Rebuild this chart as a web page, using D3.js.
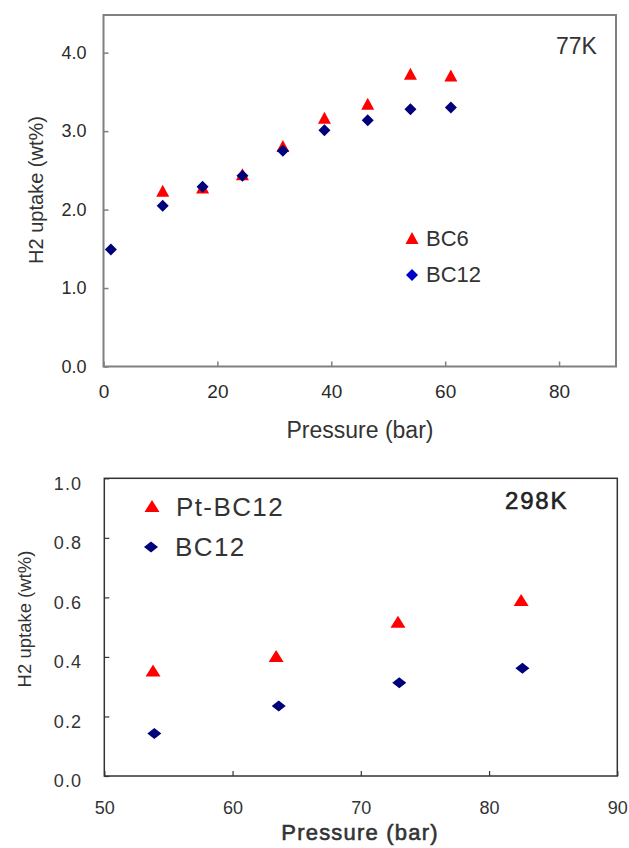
<!DOCTYPE html>
<html>
<head>
<meta charset="utf-8">
<script src="https://cdn.jsdelivr.net/npm/d3@7"></script>
<style>
  body { margin: 0; background: #fff; }
  svg { display: block; font-family: "Liberation Sans", Arial, sans-serif; }
</style>
</head>
<body>
<div id="chart"></div>
<script>
// 77K panel
const topPressureBC6 = [10.4, 17.4, 24.4, 31.5, 38.8, 46.4, 53.9, 61.0];
const topUptakeBC6 = [2.24, 2.28, 2.45, 2.81, 3.17, 3.35, 3.73, 3.71];
const topPressureBC12 = [1.3, 10.4, 17.4, 24.4, 31.5, 38.8, 46.4, 53.9, 61.0];
const topUptakeBC12 = [1.49, 2.05, 2.29, 2.43, 2.75, 3.01, 3.14, 3.28, 3.30];
const topXTicks = [0, 20, 40, 60, 80];
const topYTicks = [0, 1, 2, 3, 4];

// 298K panel
const botPressurePt = [53.8, 63.4, 72.9, 82.5];
const botUptakePt = [0.354, 0.403, 0.518, 0.591];
const botPressureBC12 = [53.9, 63.6, 73.0, 82.6];
const botUptakeBC12 = [0.143, 0.235, 0.313, 0.362];
const botXTicks = [50, 60, 70, 80, 90];
const botYTicks = [0, 0.2, 0.4, 0.6, 0.8, 1.0];

const W = 629, H = 848;
const RED = '#ff0000', NAVY = '#00007a';

const svg = d3.select('#chart')
	.append('svg')
	.attr('width', W)
	.attr('height', H);

// marker shapes, centred on the point
const triangle = (w, h) => `M0,${-h / 2}L${w / 2},${h / 2}L${-w / 2},${h / 2}Z`;
const diamond = (w, h) => `M0,${-h / 2}L${w / 2},0L0,${h / 2}L${-w / 2},0Z`;

const zip = (xs, ys) => xs.map((x, i) => ({ x: x, y: ys[i] }));

// ---------- top chart ----------
const x1 = d3.scaleLinear().domain([0, 90]).range([103.5, 616]);
const y1 = d3.scaleLinear().domain([0, 4.48]).range([366.5, 15]);

const g1 = svg.append('g');

g1.append('rect')
	.attr('x', x1.range()[0])
	.attr('y', y1.range()[1])
	.attr('width', x1.range()[1] - x1.range()[0])
	.attr('height', y1.range()[0] - y1.range()[1])
	.attr('fill', 'none')
	.attr('stroke', '#808080')
	.attr('stroke-width', 2);

g1.append('g')
	.attr('transform', `translate(${x1.range()[0]},0)`)
	.call(d3.axisLeft(y1).tickValues(topYTicks).tickFormat(d3.format('.1f')).tickSizeInner(-5).tickSizeOuter(0).tickPadding(17))
	.call(g => g.select('.domain').remove())
	.call(g => g.selectAll('line').attr('stroke', '#808080').attr('stroke-width', 1.5))
	.call(g => g.selectAll('text').attr('font-size', 18).attr('fill', '#2a2a2a').attr('font-family', null));

g1.append('g')
	.attr('transform', `translate(0,${y1.range()[0]})`)
	.call(d3.axisBottom(x1).tickValues(topXTicks).tickSizeInner(-5).tickSizeOuter(0).tickPadding(18))
	.call(g => g.select('.domain').remove())
	.call(g => g.selectAll('line').attr('stroke', '#808080').attr('stroke-width', 1.5))
	.call(g => g.selectAll('text').attr('font-size', 19).attr('fill', '#2a2a2a').attr('font-family', null));

g1.selectAll('.bc6')
	.data(zip(topPressureBC6, topUptakeBC6))
	.enter()
	.append('path')
	.attr('d', triangle(13, 12))
	.attr('transform', d => `translate(${x1(d.x)},${y1(d.y)})`)
	.attr('fill', RED);

g1.selectAll('.bc12')
	.data(zip(topPressureBC12, topUptakeBC12))
	.enter()
	.append('path')
	.attr('d', diamond(12, 12))
	.attr('transform', d => `translate(${x1(d.x)},${y1(d.y)})`)
	.attr('fill', NAVY);

// legend + label
g1.append('path').attr('d', triangle(13, 12)).attr('transform', 'translate(412,238)').attr('fill', RED);
g1.append('text').attr('x', 426).attr('y', 246).attr('font-size', 22).attr('fill', '#333').text('BC6');
g1.append('path').attr('d', diamond(12, 12)).attr('transform', 'translate(412,275)').attr('fill', '#0000c8');
g1.append('text').attr('x', 426).attr('y', 282).attr('font-size', 22).attr('fill', '#333').text('BC12');
g1.append('text').attr('x', 556).attr('y', 54).attr('font-size', 23).attr('fill', '#333').text('77K');

g1.append('text')
	.attr('x', 360).attr('y', 438)
	.attr('text-anchor', 'middle')
	.attr('font-size', 23).attr('fill', '#333')
	.text('Pressure (bar)');

g1.append('text')
	.attr('transform', 'translate(36,190) rotate(-90)')
	.attr('text-anchor', 'middle')
	.attr('dy', '0.35em')
	.attr('font-size', 20).attr('fill', '#333')
	.text('H2 uptake (wt%)');

// ---------- bottom chart ----------
const x2 = d3.scaleLinear().domain([50, 90]).range([104.3, 617.3]);
const y2 = d3.scaleLinear().domain([0, 1]).range([776, 478.3]);

const g2 = svg.append('g');

g2.append('rect')
	.attr('x', x2.range()[0])
	.attr('y', y2.range()[1])
	.attr('width', x2.range()[1] - x2.range()[0])
	.attr('height', y2.range()[0] - y2.range()[1])
	.attr('fill', 'none')
	.attr('stroke', '#333')
	.attr('stroke-width', 1.5);

g2.append('g')
	.attr('transform', `translate(${x2.range()[0]},0)`)
	.call(d3.axisLeft(y2).tickValues(botYTicks).tickFormat(d3.format('.1f')).tickSizeInner(-5).tickSizeOuter(0).tickPadding(22))
	.call(g => g.select('.domain').remove())
	.call(g => g.selectAll('line').attr('stroke', '#333').attr('stroke-width', 1.2))
	.call(g => g.selectAll('text').attr('font-size', 18).attr('fill', '#333').attr('letter-spacing', 1.2).attr('dy', '0.6em').attr('font-family', null));

g2.append('g')
	.attr('transform', `translate(0,${y2.range()[0]})`)
	.call(d3.axisBottom(x2).tickValues(botXTicks).tickSizeInner(-5).tickSizeOuter(0).tickPadding(25))
	.call(g => g.select('.domain').remove())
	.call(g => g.selectAll('line').attr('stroke', '#333').attr('stroke-width', 1.2))
	.call(g => g.selectAll('text').attr('font-size', 18).attr('fill', '#333').attr('font-family', null));

g2.selectAll('.pt')
	.data(zip(botPressurePt, botUptakePt))
	.enter()
	.append('path')
	.attr('d', triangle(15, 12))
	.attr('transform', d => `translate(${x2(d.x)},${y2(d.y)})`)
	.attr('fill', RED);

g2.selectAll('.bc12b')
	.data(zip(botPressureBC12, botUptakeBC12))
	.enter()
	.append('path')
	.attr('d', diamond(14, 11))
	.attr('transform', d => `translate(${x2(d.x)},${y2(d.y)})`)
	.attr('fill', NAVY);

g2.append('path').attr('d', triangle(15, 12)).attr('transform', 'translate(152,506)').attr('fill', RED);
g2.append('text').attr('x', 176).attr('y', 516).attr('font-size', 26).attr('letter-spacing', 1.4).attr('fill', '#333').text('Pt-BC12');
g2.append('path').attr('d', diamond(14, 11)).attr('transform', 'translate(151,547)').attr('fill', NAVY);
g2.append('text').attr('x', 175).attr('y', 556).attr('font-size', 26).attr('letter-spacing', 1.4).attr('fill', '#333').text('BC12');
g2.append('text').attr('x', 505).attr('y', 509).attr('font-size', 24).attr('letter-spacing', 1.8)
	.attr('fill', '#222').attr('stroke', '#222').attr('stroke-width', 0.6).text('298K');

g2.append('text')
	.attr('x', 360).attr('y', 840)
	.attr('text-anchor', 'middle')
	.attr('font-size', 22).attr('letter-spacing', 1.2)
	.attr('fill', '#333').attr('stroke', '#333').attr('stroke-width', 0.6)
	.text('Pressure (bar)');

g2.append('text')
	.attr('transform', 'translate(25,619) rotate(-90)')
	.attr('text-anchor', 'middle')
	.attr('dy', '0.35em')
	.attr('font-size', 18.5).attr('fill', '#333')
	.text('H2 uptake (wt%)');
</script>
</body>
</html>
